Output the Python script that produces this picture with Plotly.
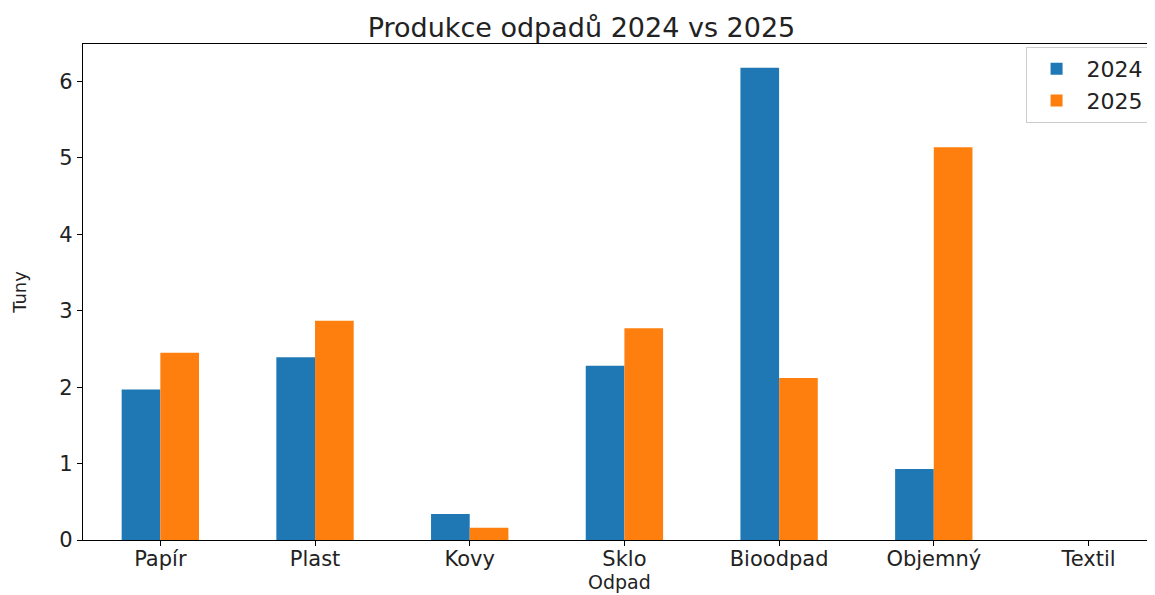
import plotly.graph_objects as go

categories = ["Papír", "Plast", "Kovy", "Sklo", "Bioodpad", "Objemný", "Textil"]
values_2024 = [1.97, 2.39, 0.34, 2.28, 6.18, 0.93, 0.0]
values_2025 = [2.45, 2.87, 0.16, 2.77, 2.12, 5.14, 0.0]
y_ticks = [0, 1, 2, 3, 4, 5, 6]

FONT = "DejaVu Sans"
TXT = "#222222"

fig = go.Figure()
fig.add_trace(go.Bar(x=list(range(len(categories))), y=values_2024, name="2024",
                     marker=dict(color="#1f77b4", line=dict(width=0))))
fig.add_trace(go.Bar(x=list(range(len(categories))), y=values_2025, name="2025",
                     marker=dict(color="#ff7f0e", line=dict(width=0))))

fig.update_layout(
    width=1147, height=587,
    margin=dict(l=75, r=0, t=36, b=55),
    paper_bgcolor="white", plot_bgcolor="white",
    barmode="group", bargap=0.5, bargroupgap=0,
    font=dict(family=FONT, color=TXT),
    title=dict(text="Produkce odpadů 2024 vs 2025", x=0.5, xanchor="center",
               y=0.967, yanchor="middle", font=dict(size=27, family=FONT, color=TXT)),
    xaxis=dict(
        range=[-0.5, 6.43],
        tickmode="array", tickvals=list(range(len(categories))), ticktext=categories,
        showline=True, linecolor="black", linewidth=1.2, mirror=True,
        ticks="outside", ticklen=5, tickcolor="black", tickwidth=1.2,
        ticklabelstandoff=-5,
        showgrid=False, zeroline=False,
        tickfont=dict(size=21, family=FONT, color=TXT),
    ),
    yaxis=dict(
        range=[0, 6.49],
        tickmode="array", tickvals=y_ticks, ticktext=[str(v) for v in y_ticks],
        showline=True, linecolor="black", linewidth=1.2,
        ticks="outside", ticklen=5, tickcolor="black", tickwidth=1.2,
        showgrid=False, zeroline=False,
        tickfont=dict(size=21, family=FONT, color=TXT),
        title=dict(text="Tuny", font=dict(size=18, family=FONT, color=TXT), standoff=28),
    ),
    legend=dict(
        x=0.994, y=0.994, xanchor="right", yanchor="top",
        bgcolor="white", bordercolor="#cccccc", borderwidth=1,
        font=dict(size=22, family=FONT, color=TXT),
        itemwidth=50, tracegroupgap=2,
    ),
    annotations=[dict(text="Odpad", x=0.5, xref="paper", y=0, yref="paper",
                      yshift=-42, yanchor="middle", xanchor="center", showarrow=False,
                      font=dict(size=19, family=FONT, color=TXT))],
)

fig.write_html("out.html")
